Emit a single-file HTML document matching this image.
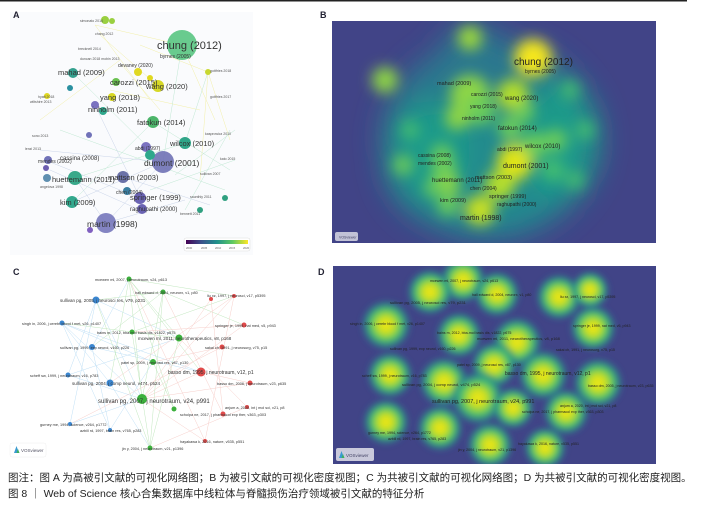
<!DOCTYPE html>
<html><head><meta charset="utf-8"><style>
html,body{margin:0;padding:0;background:#fff;width:723px;height:509px;overflow:hidden;font-family:"Liberation Sans","Noto Sans CJK SC",sans-serif}
.cap{position:absolute;left:8px;font-size:10.5px;color:#222;white-space:nowrap}
</style></head><body>
<svg width="723" height="509" style="position:absolute;left:0;top:0" font-family="Liberation Sans, sans-serif">
<defs>
<filter id="b8" x="-50%" y="-50%" width="200%" height="200%"><feGaussianBlur stdDeviation="7"/></filter>
<filter id="b12" x="-50%" y="-50%" width="200%" height="200%"><feGaussianBlur stdDeviation="14"/></filter>
<filter id="b4" x="-50%" y="-50%" width="200%" height="200%"><feGaussianBlur stdDeviation="3"/></filter>
<radialGradient id="yb"><stop offset="0" stop-color="#f5e61c"/><stop offset="0.3" stop-color="#c8e020"/><stop offset="0.6" stop-color="#4cc26c"/><stop offset="0.85" stop-color="#23898e" stop-opacity="0.6"/><stop offset="1" stop-color="#414487" stop-opacity="0"/></radialGradient>
<linearGradient id="cb"><stop offset="0" stop-color="#440154"/><stop offset="0.25" stop-color="#3b528b"/><stop offset="0.5" stop-color="#21918c"/><stop offset="0.75" stop-color="#5ec962"/><stop offset="1" stop-color="#fde725"/></linearGradient>
<clipPath id="cB"><rect x="332" y="21" width="324" height="222"/></clipPath>
<clipPath id="cD"><rect x="333" y="266" width="323" height="198"/></clipPath>
</defs>
<rect x="0" y="0" width="687" height="1.5" fill="#222"/>

<!-- Panel A -->
<rect x="10" y="12" width="243" height="243" fill="#fafbfd"/>
<text x="13" y="18" font-size="9" font-weight="bold" fill="#223">A</text>
<g stroke-width="0.5" opacity="0.45">
<g stroke="#e8e040"><line x1="95" y1="25" x2="182" y2="45"/><line x1="100" y1="35" x2="158" y2="86"/><line x1="122" y1="65" x2="160" y2="110"/><line x1="140" y1="45" x2="208" y2="72"/><line x1="208" y1="72" x2="230" y2="140"/><line x1="182" y1="45" x2="215" y2="120"/><line x1="110" y1="90" x2="200" y2="110"/><line x1="40" y1="120" x2="120" y2="60"/><line x1="95" y1="25" x2="150" y2="100"/><line x1="208" y1="72" x2="200" y2="180"/></g>
<g stroke="#7ad0a0"><line x1="73" y1="73" x2="163" y2="162"/><line x1="182" y1="45" x2="163" y2="162"/><line x1="153" y1="122" x2="230" y2="170"/><line x1="185" y1="143" x2="75" y2="178"/><line x1="230" y1="130" x2="185" y2="210"/><line x1="153" y1="122" x2="72" y2="202"/><line x1="208" y1="72" x2="185" y2="143"/><line x1="60" y1="130" x2="225" y2="190"/><line x1="235" y1="130" x2="175" y2="175"/><line x1="235" y1="160" x2="150" y2="190"/></g>
<g stroke="#8fa5d0"><line x1="106" y1="223" x2="163" y2="162"/><line x1="106" y1="223" x2="75" y2="178"/><line x1="140" y1="198" x2="45" y2="160"/><line x1="123" y1="177" x2="210" y2="205"/><line x1="106" y1="223" x2="185" y2="200"/><line x1="40" y1="150" x2="163" y2="162"/><line x1="72" y1="202" x2="163" y2="162"/><line x1="95" y1="105" x2="140" y2="198"/><line x1="50" y1="170" x2="140" y2="210"/></g>
</g>
<g>
<circle cx="182" cy="45" r="15" fill="#4fc27a" opacity="0.85"/>
<circle cx="163" cy="162" r="11" fill="#6f71b5" opacity="0.9"/>
<circle cx="106" cy="223" r="10" fill="#7677bb" opacity="0.9"/>
<circle cx="75" cy="178" r="7" fill="#38a98a"/>
<circle cx="158" cy="86" r="6" fill="#d6d826"/>
<circle cx="153" cy="122" r="6" fill="#4cb56a"/>
<circle cx="185" cy="143" r="6" fill="#30a588"/>
<circle cx="72" cy="202" r="6" fill="#32a88d"/>
<circle cx="73" cy="73" r="5" fill="#33a08e"/>
<circle cx="140" cy="198" r="6" fill="#6a63b3"/>
<circle cx="142" cy="209" r="5" fill="#6a63b3"/>
<circle cx="123" cy="177" r="6" fill="#6b72a8"/>
<circle cx="146" cy="147" r="5" fill="#7a72c0"/>
<circle cx="150" cy="155" r="5" fill="#2ea88c"/>
<circle cx="127" cy="191" r="4" fill="#3a7ea0"/>
<circle cx="105" cy="20" r="4" fill="#9ad040"/>
<circle cx="112" cy="21" r="3" fill="#9ad040"/>
<circle cx="116" cy="82" r="4" fill="#6ac150"/>
<circle cx="112" cy="97" r="4" fill="#d8d820"/>
<circle cx="95" cy="105" r="4" fill="#7a72c0"/>
<circle cx="103" cy="111" r="4" fill="#2ea88c"/>
<circle cx="48" cy="160" r="4" fill="#7072b8"/>
<circle cx="46" cy="168" r="3" fill="#6c5db0"/>
<circle cx="47" cy="178" r="4" fill="#5f8fb0"/>
<circle cx="90" cy="230" r="3" fill="#8060c0"/>
<circle cx="138" cy="72" r="4" fill="#e0d820"/>
<circle cx="150" cy="78" r="3" fill="#e0d820"/>
<circle cx="70" cy="88" r="3" fill="#2a90a0"/>
<circle cx="89" cy="135" r="3" fill="#7072b8"/>
<circle cx="47" cy="96" r="3" fill="#e0d820"/>
<circle cx="208" cy="72" r="3" fill="#c8d830"/>
<circle cx="225" cy="198" r="3" fill="#30a080"/>
<circle cx="200" cy="210" r="3" fill="#30a080"/>
</g>
<g font-size="7.5" fill="#333">
<text x="157" y="49" font-size="11">chung (2012)</text>
<text x="144" y="166" font-size="8.5">dumont (2001)</text>
<text x="87" y="227" font-size="8.5">martin (1998)</text>
<text x="52" y="182" font-size="7.5">huettemann (2011)</text>
<text x="146" y="89">wang (2020)</text>
<text x="137" y="125">fatokun (2014)</text>
<text x="170" y="146">wilcox (2010)</text>
<text x="60" y="205">kim (2009)</text>
<text x="58" y="75">mahad (2009)</text>
<text x="130" y="200">springer (1999)</text>
<text x="130" y="211" font-size="6">raghupathi (2000)</text>
<text x="108" y="180">mattson (2003)</text>
<text x="100" y="100">yang (2018)</text>
<text x="110" y="85">carozzi (2015)</text>
<text x="88" y="112">ninholm (2011)</text>
<text x="118" y="67" font-size="5">devaney (2020)</text>
<text x="60" y="160" font-size="6">cassina (2008)</text>
<text x="38" y="163" font-size="5">mendes (2002)</text>
<text x="116" y="194" font-size="5">chen (2004)</text>
<text x="135" y="150" font-size="5">abdi (1997)</text>
<text x="160" y="58" font-size="5">byrnes (2005)</text>
</g>
<g font-size="3.5" fill="#555">
<text x="80" y="22">simonato 2014</text><text x="95" y="35">chang 2012</text><text x="78" y="50">brecknell 2014</text><text x="80" y="60">duncan 2018 mobin 2013</text><text x="38" y="98">hyatt 2018</text><text x="30" y="103">wiltshire 2013</text><text x="32" y="137">sono 2013</text><text x="25" y="150">lenzi 2013</text><text x="210" y="72">gottfries 2018</text><text x="210" y="98">gottfries 2017</text><text x="205" y="135">kasprowicz 2010</text><text x="200" y="175">sullivan 2007</text><text x="190" y="198">saunthly 2011</text><text x="180" y="215">bennett 2011</text><text x="220" y="160">kato 2015</text><text x="40" y="188">angelova 1998</text>
</g>
<rect x="184" y="238" width="66" height="13" fill="#fff" stroke="#ddd" stroke-width="0.5" rx="2"/>
<rect x="186" y="240" width="62" height="4" fill="url(#cb)"/>
<g font-size="2.8" fill="#666"><text x="186" y="249">2000</text><text x="201" y="249">2005</text><text x="215" y="249">2010</text><text x="229" y="249">2015</text><text x="243" y="249">2020</text></g>

<!-- Panel B -->
<text x="320" y="18" font-size="9" font-weight="bold" fill="#223">B</text>
<rect x="332" y="21" width="324" height="222" fill="#414487"/>
<g clip-path="url(#cB)">
<g filter="url(#b12)">
<ellipse cx="490" cy="140" rx="108" ry="100" fill="#2a788e"/>
<ellipse cx="480" cy="165" rx="95" ry="70" fill="#23898e"/>
<ellipse cx="475" cy="55" rx="35" ry="30" fill="#2a788e"/>
<ellipse cx="560" cy="140" rx="40" ry="60" fill="#1f9a8a"/>
<ellipse cx="430" cy="150" rx="40" ry="50" fill="#1f9a8a"/>
</g>
<g filter="url(#b8)">
<circle cx="533" cy="58" r="19" fill="#f5e61c"/>
<circle cx="470" cy="38" r="12" fill="#9fda3a"/>
<circle cx="385" cy="80" r="13" fill="#8fd644"/>
<circle cx="470" cy="95" r="20" fill="#8fd644"/>
<circle cx="513" cy="95" r="16" fill="#b5de2b"/>
<circle cx="480" cy="110" r="15" fill="#6ccd5a"/>
<circle cx="457" cy="118" r="12" fill="#8fd644"/>
<circle cx="515" cy="162" r="18" fill="#e2e418"/>
<circle cx="535" cy="145" r="13" fill="#6ccd5a"/>
<circle cx="510" cy="128" r="12" fill="#6ccd5a"/>
<circle cx="444" cy="170" r="13" fill="#6ccd5a"/>
<circle cx="500" cy="185" r="15" fill="#b5de2b"/>
<circle cx="480" cy="210" r="15" fill="#c8e020"/>
<circle cx="448" cy="205" r="11" fill="#6ccd5a"/>
<circle cx="450" cy="185" r="10" fill="#8fd644"/>
<circle cx="433" cy="188" r="9" fill="#6ccd5a"/>
<circle cx="442" cy="155" r="11" fill="#6ccd5a"/>
<circle cx="556" cy="140" r="11" fill="#6ccd5a"/>
<circle cx="525" cy="112" r="10" fill="#6ccd5a"/>
<circle cx="553" cy="170" r="11" fill="#44bf70"/>
<circle cx="410" cy="130" r="9" fill="#44bf70"/>
<circle cx="570" cy="90" r="9" fill="#44bf70"/>
<circle cx="403" cy="165" r="10" fill="#6ccd5a"/>
<circle cx="575" cy="180" r="9" fill="#44bf70"/>
<circle cx="585" cy="130" r="9" fill="#44bf70"/>
</g>
<g font-size="7" fill="#222">
<text x="514" y="65" font-size="10">chung (2012)</text>
<text x="503" y="168">dumont (2001)</text>
<text x="460" y="220">martin (1998)</text>
<text x="432" y="182" font-size="6">huettemann (2011)</text>
<text x="505" y="100" font-size="6">wang (2020)</text>
<text x="498" y="130" font-size="6">fatokun (2014)</text>
<text x="525" y="148" font-size="6">wilcox (2010)</text>
<text x="440" y="202" font-size="5.5">kim (2009)</text>
<text x="437" y="85" font-size="5.5">mahad (2009)</text>
<text x="489" y="198" font-size="5.5">springer (1999)</text>
<text x="497" y="206" font-size="5">raghupathi (2000)</text>
<text x="475" y="179" font-size="5.5">mattson (2003)</text>
<text x="470" y="190" font-size="5">chen (2004)</text>
<text x="471" y="96" font-size="5">carozzi (2015)</text>
<text x="470" y="108" font-size="5">yang (2018)</text>
<text x="462" y="120" font-size="5">ninholm (2011)</text>
<text x="497" y="151" font-size="5">abdi (1997)</text>
<text x="525" y="73" font-size="5">byrnes (2005)</text>
<text x="418" y="157" font-size="5">cassina (2008)</text>
<text x="418" y="165" font-size="5">mendes (2002)</text>
</g>
</g>
<rect x="335" y="232" width="23" height="9" rx="2" fill="#d8d8e4" opacity="0.85"/>
<text x="339" y="238.5" font-size="3.5" fill="#446">VOSviewer</text>

<!-- Panel C -->
<text x="13" y="275" font-size="9" font-weight="bold" fill="#223">C</text>
<g stroke-width="0.5" opacity="0.55">
<g stroke="#8cc6ee">
<line x1="96" y1="300" x2="142" y2="399"/><line x1="62" y1="323" x2="142" y2="399"/><line x1="62" y1="323" x2="153" y2="362"/><line x1="92" y1="347" x2="201" y2="372"/><line x1="68" y1="375" x2="142" y2="399"/><line x1="110" y1="383" x2="150" y2="448"/><line x1="70" y1="424" x2="96" y2="300"/><line x1="110" y1="430" x2="62" y2="323"/><line x1="96" y1="300" x2="179" y2="338"/><line x1="62" y1="323" x2="110" y2="383"/><line x1="68" y1="375" x2="179" y2="338"/><line x1="92" y1="347" x2="129" y2="279"/><line x1="70" y1="424" x2="142" y2="399"/><line x1="110" y1="430" x2="153" y2="362"/><line x1="62" y1="323" x2="201" y2="372"/><line x1="96" y1="300" x2="68" y2="375"/><line x1="92" y1="347" x2="110" y2="430"/>
</g>
<g stroke="#8fd48a">
<line x1="129" y1="279" x2="142" y2="399"/><line x1="163" y1="292" x2="142" y2="399"/><line x1="129" y1="279" x2="179" y2="338"/><line x1="163" y1="292" x2="150" y2="448"/><line x1="132" y1="332" x2="150" y2="448"/><line x1="179" y1="338" x2="150" y2="448"/><line x1="129" y1="279" x2="201" y2="372"/><line x1="163" y1="292" x2="96" y2="300"/><line x1="153" y1="362" x2="174" y2="409"/><line x1="132" y1="332" x2="234" y2="296"/><line x1="129" y1="279" x2="110" y2="383"/><line x1="163" y1="292" x2="92" y2="347"/><line x1="179" y1="338" x2="62" y2="323"/><line x1="174" y1="409" x2="129" y2="279"/><line x1="150" y1="448" x2="96" y2="300"/><line x1="163" y1="292" x2="244" y2="325"/><line x1="129" y1="279" x2="234" y2="296"/>
</g>
<g stroke="#f0a8a0">
<line x1="211" y1="299" x2="142" y2="399"/><line x1="234" y1="296" x2="142" y2="399"/><line x1="244" y1="325" x2="142" y2="399"/><line x1="222" y1="347" x2="153" y2="362"/><line x1="201" y1="372" x2="250" y2="383"/><line x1="247" y1="407" x2="179" y2="338"/><line x1="223" y1="414" x2="163" y2="292"/><line x1="205" y1="441" x2="129" y2="279"/><line x1="234" y1="296" x2="205" y2="441"/><line x1="244" y1="325" x2="132" y2="332"/><line x1="250" y1="383" x2="142" y2="399"/><line x1="211" y1="299" x2="223" y2="414"/><line x1="201" y1="372" x2="142" y2="399"/><line x1="205" y1="441" x2="142" y2="399"/><line x1="234" y1="296" x2="110" y2="383"/><line x1="247" y1="407" x2="150" y2="448"/><line x1="222" y1="347" x2="70" y2="424"/>
</g>
</g>
<g fill="#3a86d0"><circle cx="96" cy="300" r="3.5"/><circle cx="62" cy="323" r="2.5"/><circle cx="92" cy="347" r="3"/><circle cx="68" cy="375" r="2.5"/><circle cx="110" cy="383" r="3.5"/><circle cx="70" cy="424" r="2"/><circle cx="110" cy="430" r="2"/></g>
<g fill="#3cb03c"><circle cx="129" cy="279" r="2.5"/><circle cx="163" cy="292" r="2.5"/><circle cx="132" cy="332" r="2.5"/><circle cx="179" cy="338" r="3.5"/><circle cx="153" cy="362" r="3"/><circle cx="142" cy="399" r="5"/><circle cx="174" cy="409" r="2.5"/><circle cx="150" cy="448" r="2.5"/></g>
<g fill="#e04a4a"><circle cx="211" cy="299" r="2"/><circle cx="234" cy="296" r="2"/><circle cx="244" cy="325" r="2.5"/><circle cx="222" cy="347" r="2.5"/><circle cx="201" cy="372" r="4.5"/><circle cx="250" cy="383" r="2.5"/><circle cx="247" cy="407" r="2"/><circle cx="223" cy="414" r="2.5"/><circle cx="205" cy="441" r="2"/></g>
<g font-size="3.8" fill="#333">
<text x="95" y="281">mcewen ml, 2007, j neurotraum, v24, p613</text>
<text x="135" y="294">hall edward d, 2004, neurorx, v1, p80</text>
<text x="60" y="302" font-size="4.5">sullivan pg, 2005, j neurosci res, v79, p231</text>
<text x="22" y="325">singh in, 2006, j cerebr blood f met, v26, p1407</text>
<text x="97" y="334">bains m, 2012, bba-mol basis dis, v1822, p675</text>
<text x="138" y="340" font-size="4.5">mcewen ml, 2011, neurotherapeutics, v8, p168</text>
<text x="60" y="349">sullivan pg, 1999, exp neurol, v160, p226</text>
<text x="205" y="349">sakai ch, 1991, j neurosurg, v75, p15</text>
<text x="121" y="364">patel sp, 2009, j neurosci res, v87, p130</text>
<text x="30" y="377">scheff sw, 1999, j neurotraum, v16, p783</text>
<text x="168" y="374" font-size="5">basso dm, 1995, j neurotraum, v12, p1</text>
<text x="72" y="385" font-size="4.5">sullivan pg, 2004, j comp neurol, v474, p524</text>
<text x="217" y="385">basso dm, 2006, j neurotraum, v23, p635</text>
<text x="98" y="403" font-size="6">sullivan pg, 2007, j neurotraum, v24, p991</text>
<text x="225" y="409">anjum a, 2020, int j mol sci, v21, p8</text>
<text x="180" y="416">scholpa ne, 2017, j pharmacol exp ther, v363, p303</text>
<text x="40" y="426">gurney me, 1994, science, v264, p1772</text>
<text x="80" y="432">azbill rd, 1997, brain res, v765, p283</text>
<text x="180" y="443">hayakawa k, 2016, nature, v535, p551</text>
<text x="122" y="450">jin y, 2004, j neurotraum, v21, p1396</text>
<text x="207" y="297">liu xz, 1997, j neurosci, v17, p5395</text>
<text x="215" y="327">springer je, 1999, nat med, v5, p943</text>
</g>
<rect x="10" y="443" width="36" height="14" rx="2" fill="#fff" stroke="#eee" stroke-width="0.5"/>
<path d="M14 453 L16.5 446 L19 453 Z" fill="#3a9ad0"/><path d="M16.5 453 L18 449 L19.5 453Z" fill="#3cb060"/>
<text x="21" y="452" font-size="4.5" fill="#556">VOSviewer</text>

<!-- Panel D -->
<text x="318" y="275" font-size="9" font-weight="bold" fill="#223">D</text>
<rect x="333" y="266" width="323" height="198" fill="#414487"/>
<g clip-path="url(#cD)">
<g filter="url(#b4)" fill="url(#yb)">
<circle cx="463" cy="280" r="24"/><circle cx="497" cy="294" r="24"/><circle cx="559" cy="297" r="24"/><circle cx="386" cy="325" r="26"/>
<circle cx="459" cy="335" r="24"/><circle cx="517" cy="342" r="26"/><circle cx="494" cy="365" r="24"/><circle cx="390" cy="375" r="24"/>
<circle cx="444" cy="382" r="26"/><circle cx="543" cy="375" r="26"/><circle cx="478" cy="398" r="28"/><circle cx="513" cy="408" r="22"/>
<circle cx="566" cy="412" r="24"/><circle cx="386" cy="422" r="24"/><circle cx="440" cy="428" r="24"/><circle cx="490" cy="445" r="24"/>
<circle cx="430" cy="292" r="24"/><circle cx="593" cy="328" r="24"/><circle cx="598" cy="383" r="26"/><circle cx="545" cy="448" r="22"/>
<circle cx="590" cy="290" r="20"/>
</g>
<g font-size="3.6" fill="#222">
<text x="430" y="282">mcewen ml, 2007, j neurotraum, v24, p613</text>
<text x="472" y="296">hall edward d, 2004, neurorx, v1, p80</text>
<text x="390" y="304" font-size="4">sullivan pg, 2005, j neurosci res, v79, p231</text>
<text x="560" y="298">liu xz, 1997, j neurosci, v17, p5395</text>
<text x="350" y="325">singh in, 2006, j cerebr blood f met, v26, p1407</text>
<text x="437" y="334">bains m, 2012, bba-mol basis dis, v1822, p675</text>
<text x="477" y="340" font-size="4">mcewen ml, 2011, neurotherapeutics, v8, p168</text>
<text x="573" y="327">springer je, 1999, nat med, v5, p943</text>
<text x="390" y="350">sullivan pg, 1999, exp neurol, v160, p226</text>
<text x="556" y="351">sakai ch, 1991, j neurosurg, v75, p15</text>
<text x="457" y="366">patel sp, 2009, j neurosci res, v87, p130</text>
<text x="505" y="375" font-size="5">basso dm, 1995, j neurotraum, v12, p1</text>
<text x="362" y="377">scheff sw, 1999, j neurotraum, v16, p783</text>
<text x="402" y="386" font-size="4">sullivan pg, 2004, j comp neurol, v474, p524</text>
<text x="588" y="387">basso dm, 2005, j neurotraum, v23, p635</text>
<text x="432" y="403" font-size="5.5">sullivan pg, 2007, j neurotraum, v24, p991</text>
<text x="560" y="407">anjum a, 2020, int j mol sci, v21, p8</text>
<text x="522" y="413">scholpa ne, 2017, j pharmacol exp ther, v363, p303</text>
<text x="368" y="434">gurney me, 1994, science, v264, p1772</text>
<text x="388" y="440">azbill rd, 1997, brain res, v765, p283</text>
<text x="518" y="445">hayakawa k, 2016, nature, v535, p551</text>
<text x="458" y="451">jin y, 2004, j neurotraum, v21, p1396</text>
</g>
</g>
<rect x="336" y="448" width="38" height="13" rx="2" fill="#d8d8e4" opacity="0.9"/>
<path d="M339 458 L341.5 451 L344 458 Z" fill="#3a9ad0"/><path d="M341.5 458 L343 454 L344.5 458Z" fill="#3cb060"/>
<text x="346" y="457" font-size="4.5" fill="#446">VOSviewer</text>
</svg>
<div class="cap" style="top:470px">图注：图 A 为高被引文献的可视化网络图；B 为被引文献的可视化密度视图；C 为共被引文献的可视化网络图；D 为共被引文献的可视化密度视图。</div>
<div class="cap" style="top:486px">图 8 ｜ Web of Science 核心合集数据库中线粒体与脊髓损伤治疗领域被引文献的特征分析</div>
</body></html>
